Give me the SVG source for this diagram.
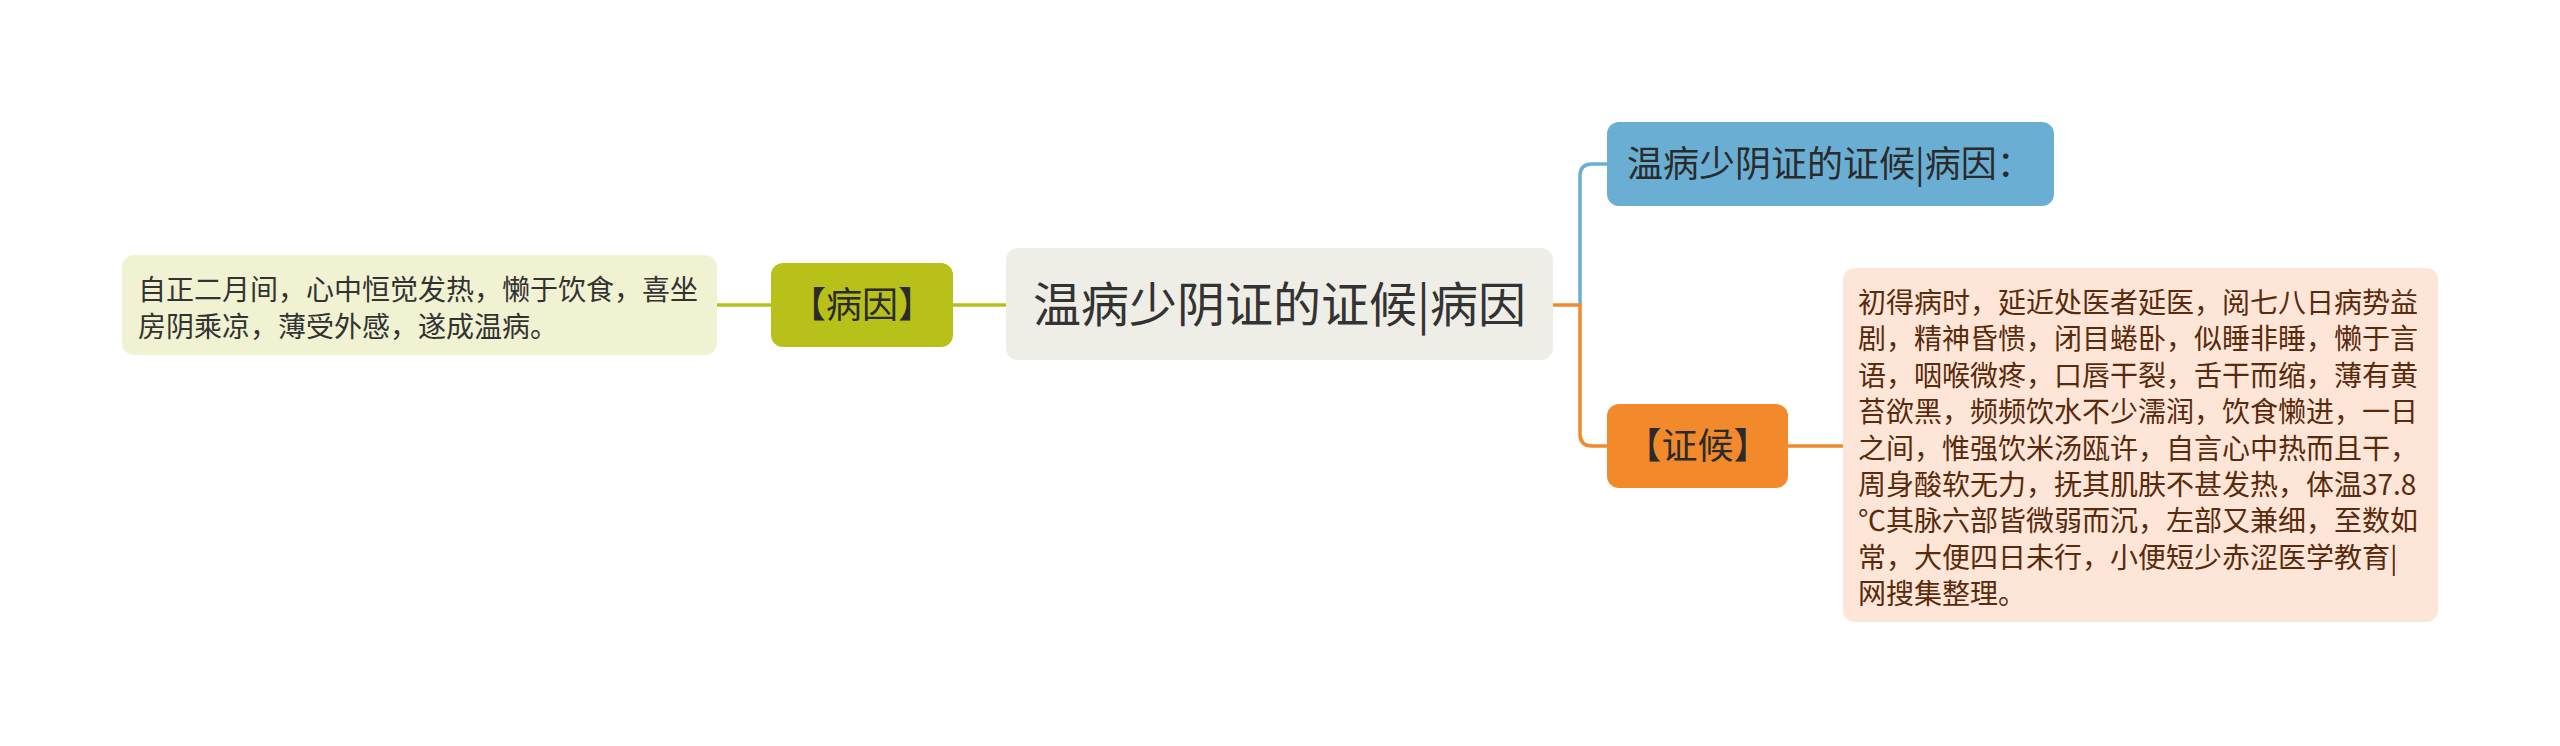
<svg xmlns="http://www.w3.org/2000/svg" width="2560" height="746" viewBox="0 0 2560 746">
<style>
text{font-family:"Noto Sans CJK SC","Noto Sans",sans-serif;}
.leaf{font-size:28px;fill:#333333;}
.leafr{font-size:28px;fill:#5a2a0c;}
.br{font-size:36px;fill:#2b2b2b;}
.root{font-size:48px;fill:#333333;}
.c{fill:none;stroke-width:3.5;}
</style>
<rect width="2560" height="746" fill="#ffffff"/>
<g id="connectors">
<path class="c" stroke="#b8c01a" d="M717 305 H771"/>
<path class="c" stroke="#b8c01a" d="M953 305 H1006"/>
<path class="c" stroke="#6aafd3" d="M1580 305 V176 Q1580 164 1592 164 H1608"/>
<path class="c" stroke="#f08a2c" d="M1553 305 H1580 V434 Q1580 446 1592 446 H1608"/>
<path class="c" stroke="#f08a2c" d="M1788 446 H1843"/>
</g>
<g id="root">
<rect x="1006" y="248" width="547" height="112" rx="12" fill="#efeee6"/>
<text class="root" x="1279.5" y="322" text-anchor="middle">温病少阴证的证候|病因</text>
</g>
<g id="bingyin">
<rect x="771" y="263" width="182" height="84" rx="12" fill="#b8c01a"/>
<text class="br" x="862" y="318" text-anchor="middle">【病因】</text>
</g>
<g id="bingyin-detail">
<rect x="122" y="255" width="595" height="100" rx="12" fill="#f0f2d2"/>
<text class="leaf" x="138" y="300">自正二月间，心中恒觉发热，懒于饮食，喜坐</text>
<text class="leaf" x="138" y="337">房阴乘凉，薄受外感，遂成温病。</text>
</g>
<g id="title-node">
<rect x="1607" y="122" width="447" height="84" rx="12" fill="#6aafd3"/>
<text class="br" x="1627" y="177">温病少阴证的证候|病因：</text>
</g>
<g id="zhenghou">
<rect x="1607" y="404" width="181" height="84" rx="12" fill="#f28a2b"/>
<text class="br" x="1697.5" y="459" text-anchor="middle">【证候】</text>
</g>
<g id="zhenghou-detail">
<rect x="1843" y="268" width="595" height="354" rx="12" fill="#fde6d7"/>
<text class="leafr" x="1858" y="313">初得病时，延近处医者延医，阅七八日病势益</text>
<text class="leafr" x="1858" y="349.4">剧，精神昏愦，闭目蜷卧，似睡非睡，懒于言</text>
<text class="leafr" x="1858" y="385.8">语，咽喉微疼，口唇干裂，舌干而缩，薄有黄</text>
<text class="leafr" x="1858" y="422.2">苔欲黑，频频饮水不少濡润，饮食懒进，一日</text>
<text class="leafr" x="1858" y="458.6">之间，惟强饮米汤瓯许，自言心中热而且干，</text>
<text class="leafr" x="1858" y="495">周身酸软无力，抚其肌肤不甚发热，体温37.8</text>
<text class="leafr" x="1858" y="531.4">℃其脉六部皆微弱而沉，左部又兼细，至数如</text>
<text class="leafr" x="1858" y="567.8">常，大便四日未行，小便短少赤涩医学教育|</text>
<text class="leafr" x="1858" y="604.2">网搜集整理。</text>
</g>
</svg>
